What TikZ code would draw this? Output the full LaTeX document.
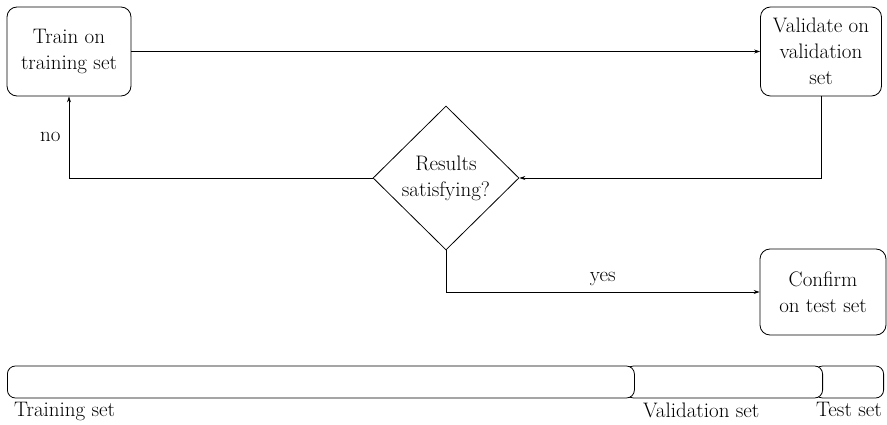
\documentclass[tikz,border=0pt]{standalone}
\usetikzlibrary{shapes.geometric,arrows.meta,calc}
\begin{document}
\begin{tikzpicture}[x=1pt,y=-1pt,
  every node/.style={font=\fontsize{21}{26}\selectfont},
  box/.style={draw,rounded corners=10pt,align=center,inner sep=0pt,line width=0.8pt},
  dia/.style={draw,diamond,align=center,inner sep=0pt,minimum width=146pt,minimum height=144pt,line width=0.8pt},
  arr/.style={line width=0.8pt,-{Stealth[length=6pt,width=4pt]}},
  seg/.style={draw,rounded corners=8pt,fill=white,minimum height=32pt,inner sep=0pt,line width=0.8pt},
  lab/.style={inner sep=2pt}]
\useasboundingbox (0,0) rectangle (887,425);
\node[box,minimum width=124pt,minimum height=89pt] (train) at (69,51.5) {Train on\\training set};
\node[box,minimum width=121pt,minimum height=89pt] (val) at (821,51.5) {Validate on\\validation\\set};
\node[dia] (res) at (446,178) {Results\\satisfying?};
\node[box,minimum width=126pt,minimum height=86pt] (conf) at (823,292) {Confirm\\on test set};
\draw[arr] (train.east) -- (val.west);
\draw[arr] (val.south) |- (res.east);
\draw[arr] (res.west) -| node[pos=0.75,left,inner sep=8pt] {no} (train.south);
\draw[arr] (res.south) |- node[pos=0.75,above,inner sep=6pt] {yes} (conf.west);
\node[seg,minimum width=69pt,anchor=east] (tst) at (884,382) {};
\node[seg,minimum width=197pt,anchor=east] (vls) at (823,382) {};
\node[seg,minimum width=627pt,anchor=west] (trn) at (7,382) {};
\node[lab,anchor=north west] (ltrn) at ($(trn.south west)+(5,2)$) {Training set};
\node[lab,anchor=north west] (lvls) at ($(trn.south east)+(6,2)$) {Validation set};
\node[lab,anchor=north east] (ltst) at ($(tst.south east)+(0,2)$) {Test set};
\end{tikzpicture}
\end{document}
